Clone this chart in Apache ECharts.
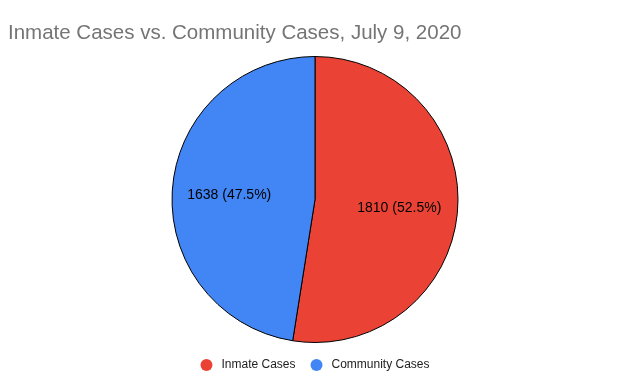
<!DOCTYPE html>
<html><head><meta charset="utf-8">
<script src="https://cdn.jsdelivr.net/npm/echarts@6/dist/echarts.min.js"></script>
<style>html,body{margin:0;padding:0;background:#fff}#c{width:630px;height:389px}</style>
</head><body><div id="c"></div>
<script>
const categories = ["Inmate Cases", "Community Cases"];
const values = [1810, 1638];
const colors = ["#ea4335", "#4285f4"];
const total = values.reduce((a,b)=>a+b,0);
const offsets = [[10, 3], [-11.5, 1]];
const chart = echarts.init(document.getElementById('c'));
chart.setOption({
  animation: false,
  title: {text: "Inmate Cases vs. Community Cases, July 9, 2020", left: 3, top: 18,
    textStyle: {fontFamily: "Liberation Sans, Arial", fontSize: 20.5, fontWeight: "normal", color: "#757575"}},
  legend: {bottom: 13, left: "center", icon: "circle", itemWidth: 12, itemHeight: 12, itemGap: 15,
    itemStyle: {borderWidth: 0},
    textStyle: {fontFamily: "Liberation Sans, Arial", fontSize: 12, color: "#222", padding: [0, 0, 0, 4]},
    data: categories},
  series: [{
    type: "pie", center: [315, 199.5], radius: [0, 143], startAngle: 90, clockwise: true,
    itemStyle: {borderColor: "#000", borderWidth: 1},
    label: {position: "inside", fontFamily: "Liberation Sans, Arial", fontSize: 14, color: "#000",
      formatter: p => p.value + " (" + (p.value/total*100).toFixed(1) + "%)"},
    labelLine: {show: false},
    emphasis: {disabled: true},
    data: categories.map((c,i)=>({name: c, value: values[i], itemStyle: {color: colors[i]}, label: {offset: offsets[i]}}))
  }]
});
</script></body></html>
